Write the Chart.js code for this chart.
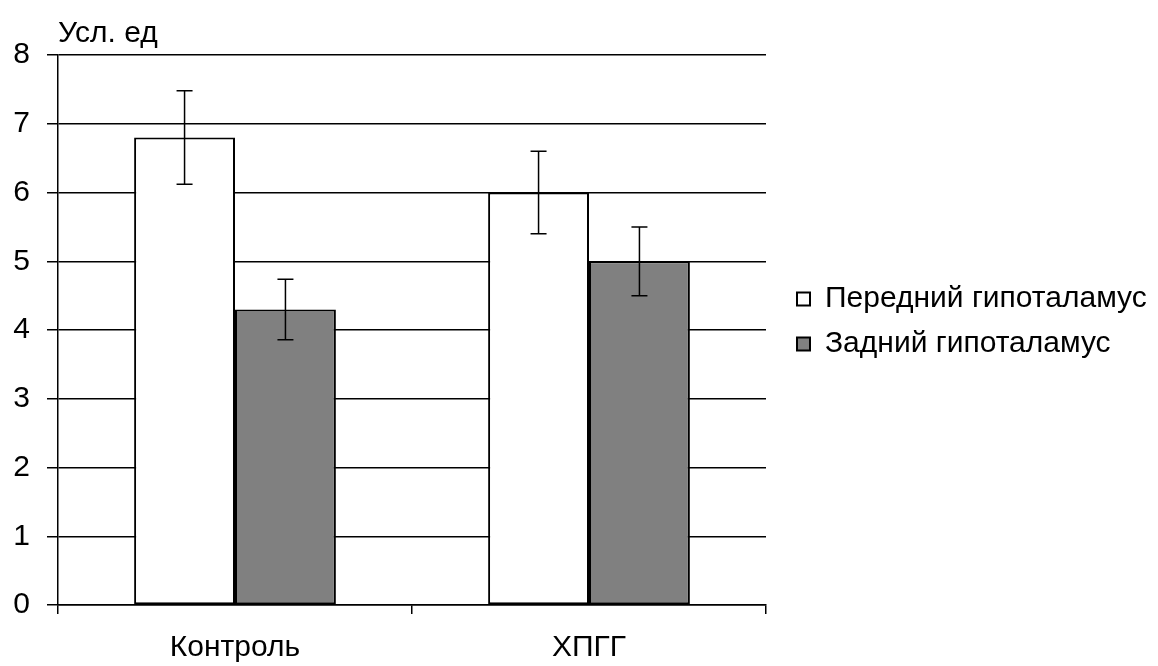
<!DOCTYPE html>
<html>
<head>
<meta charset="utf-8">
<script src="https://cdn.jsdelivr.net/npm/chart.js@4.4.0/dist/chart.umd.min.js"></script>
<style>
  html, body { margin: 0; padding: 0; background: #fff; }
  canvas { display: block; }
</style>
</head>
<body>
<canvas id="chart" width="1158" height="666"></canvas>
<script>
const categories = ['Контроль', 'ХПГГ'];
const seriesNames = ['Передний гипоталамус', 'Задний гипоталамус'];
const anterior = [6.8, 6.0];
const anteriorErr = [0.68, 0.6];
const posterior = [4.3, 5.0];
const posteriorErr = [0.44, 0.5];
const yTicks = [0, 1, 2, 3, 4, 5, 6, 7, 8];
const yUnit = 'Усл. ед';

Chart.defaults.font.family = "'Liberation Sans', Arial, sans-serif";
Chart.defaults.font.size = 30;
Chart.defaults.color = '#000';

// усы погрешностей поверх столбиков
const errorBars = {
  id: 'errorBars',
  afterDatasetsDraw(chart) {
    const ctx = chart.ctx;
    const y = chart.scales.y;
    chart.data.datasets.forEach((ds, i) => {
      chart.getDatasetMeta(i).data.forEach((bar, j) => {
        const top = y.getPixelForValue(ds.data[j] + ds.errors[j]);
        const bot = y.getPixelForValue(ds.data[j] - ds.errors[j]);
        ctx.save();
        ctx.strokeStyle = '#000';
        ctx.lineWidth = 1.5;
        ctx.beginPath();
        ctx.moveTo(bar.x, top); ctx.lineTo(bar.x, bot);
        ctx.moveTo(bar.x - 8, top); ctx.lineTo(bar.x + 8, top);
        ctx.moveTo(bar.x - 8, bot); ctx.lineTo(bar.x + 8, bot);
        ctx.stroke();
        ctx.restore();
      });
    });
  }
};

// легенда справа: отодвигаем от области графика и даём место под текст
const legendShift = {
  id: 'legendShift',
  afterLayout(chart) {
    const lg = chart.legend;
    lg.left = chart.chartArea.right + 16;
    lg.right = chart.width;
    lg.width = lg.right - lg.left;
    lg.top -= 13; lg.bottom -= 13;
  }
};

new Chart(document.getElementById('chart'), {
  type: 'bar',
  data: {
    labels: categories,
    datasets: [
      {
        label: seriesNames[0],
        data: anterior,
        errors: anteriorErr,
        backgroundColor: '#ffffff',
        borderColor: '#000',
        borderWidth: 2,
        borderSkipped: false
      },
      {
        label: seriesNames[1],
        data: posterior,
        errors: posteriorErr,
        backgroundColor: '#808080',
        borderColor: '#000',
        borderWidth: 2,
        borderSkipped: false
      }
    ]
  },
  options: {
    responsive: false,
    animation: false,
    layout: { padding: { top: 3, right: 141, bottom: 0, left: 13 } },
    datasets: { bar: { barPercentage: 1, categoryPercentage: 0.57 } },
    scales: {
      x: {
        offset: true,
        grid: { offset: true, drawOnChartArea: false, drawTicks: true, tickLength: 9, color: '#000', lineWidth: 1.5 },
        border: { color: '#000', width: 1.5 },
        ticks: { padding: 16 },
        afterFit: s => { s.paddingLeft = 0; s.paddingRight = 0; s.height = 61; }
      },
      y: {
        min: 0,
        max: 8,
        afterBuildTicks: s => { s.ticks = yTicks.map(v => ({ value: v })); },
        afterFit: s => { s.width = 45; },
        grid: { color: '#000', lineWidth: 1.5, tickLength: 11 },
        border: { color: '#000', width: 1.5 },
        ticks: { padding: 17 }
      }
    },
    plugins: {
      title: {
        display: true,
        text: yUnit,
        align: 'start',
        fullSize: false,
        font: { size: 30, weight: 'normal' },
        padding: { top: 13, bottom: 3 }
      },
      legend: {
        position: 'right',
        align: 'center',
        labels: { boxWidth: 13, boxHeight: 13, padding: 15, font: { size: 30 } }
      },
      tooltip: { enabled: false }
    }
  },
  plugins: [errorBars, legendShift]
});
</script>
</body>
</html>
